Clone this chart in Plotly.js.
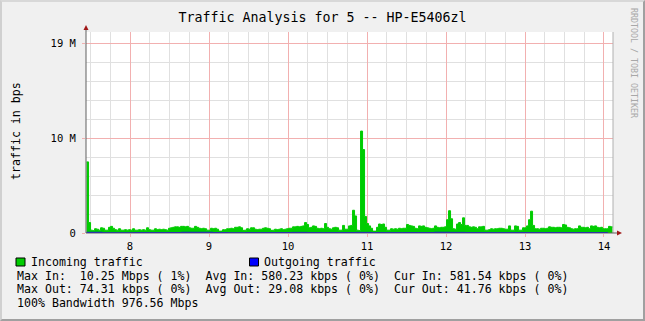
<!DOCTYPE html>
<html>
<head>
<meta charset="utf-8">
<script src="https://cdn.plot.ly/plotly-3.0.1.min.js"></script>
<style>
html,body{margin:0;padding:0;background:#f0f0f0;}
#wrap{position:relative;width:645px;height:321px;}
#chart{width:645px;height:321px;}
#frame{position:absolute;left:0;top:0;width:645px;height:321px;box-sizing:border-box;
 border-top:2px solid #d8d8d8;border-left:2px solid #d0d0d0;border-right:2px solid #a0a0a0;border-bottom:2px solid #a0a0a0;pointer-events:none;}
</style>
</head>
<body>
<div id="wrap"><div id="chart"></div><div id="frame"></div></div>
<script>
// ---- data (values in M bits/s) ----
var timeStart = 7.45;          // first sample (hour)
var timeStep = 2 / 79;         // sample spacing (hour)
var inSeg1 = [7.5,1.1,0.3,0.25,0.45,0.4,0.3,0.55,0.5,0.3,0.3,0.6,0.7,0.5,0.35,0.3,0.45,0.3,0.3,0.35,0.3,0.35,
  0.3,0.45,0.3,0.3,0.35,0.3,0.35,0.3,0.55,0.35,0.3,0.3,0.45,0.35,0.4,0.35,0.4,0.35,0.3,0.5,0.55,0.6,0.65,0.65,
  0.6,0.7,0.7,0.65,0.7,0.55,0.5,0.5,0.7,0.6,0.5,0.45,0.5,0.45,0.3,0.3,0.5,0.45,0.5,0.4];
var inSeg2 = [0.2,0.2,0.35,0.35,0.45,0.45,0.5,0.45,0.6,0.6,0.65,0.55,0.28,0.3,0.45,0.4,0.55,0.55,0.4,0.35,0.4,0.4,
  0.5,0.55,0.5,0.45,0.28,0.3,0.4,0.35,0.4,0.45,0.35,0.4,0.45,0.5,0.5,0.65,0.65,0.7,0.65,0.7,0.75,1.1,0.9,0.55,
  0.6,0.75,0.7,0.5,0.45,0.5,0.45,1.0,0.6,0.45,0.4,0.55,0.6,0.55,0.3,0.3,0.8,0.4,0.4,0.75];
var inSeg3 = [0.8,2.4,1.8,0.3,0.25,10.75,8.8,1.75,1.0,0.75,0.5,0.2,0.2,0.6,0.95,0.9,0.95,0.6,0.3,0.3,0.45,0.4,
  0.45,0.4,0.5,0.45,0.5,0.5,0.9,0.8,0.75,0.7,0.5,0.45,0.75,0.7,0.75,0.6,0.55,0.5,0.45,0.5,0.75,0.6,0.55,0.6,
  0.6,0.65,1.4,2.35,1.5,0.45,0.4,0.95,1.1,0.9,1.6,0.8,0.8,0.65,0.6,0.65,0.6,0.45,0.65,0.65];
var inSeg4 = [0.7,0.3,0.3,0.35,0.45,0.4,0.45,0.45,0.5,0.5,0.45,0.4,0.4,0.75,0.3,0.3,0.75,0.7,0.3,0.3,0.55,0.55,
  0.75,1.4,2.3,0.8,0.45,0.45,0.4,0.5,0.5,0.45,0.5,0.65,0.6,0.6,0.55,0.6,0.6,0.55,0.9,0.85,0.6,0.55,0.45,0.4,
  0.45,0.45,0.75,0.6,0.6,0.55,0.6,0.45,0.75,0.7,0.75,0.6,0.55,0.6,0.45,0.45,0.45,0.7,0.65,0.6];
var outStart = 7.45, outStep = 0.2;
var outValues = [0.07,0.03,0.03,0.04,0.04,0.05,0.07,0.07,0.05,0.03,0.04,0.04,0.05,0.06,0.04,0.04,0.05,
  0.06,0.04,0.04,0.05,0.05,0.07,0.06,0.05,0.04,0.04,0.05,0.04,0.05,0.04,0.05,0.04,0.04];
var xTickVals = [8,9,10,11,12,13,14];
var xTickText = ['8','9','10','11','12','13','14'];
var yTickVals = [0,10,20];
var yTickText = ['0','10 M','19 M'];
var chartTitle = 'Traffic Analysis for 5 -- HP-E5406zl';
var yTitle = 'traffic in bps';
var legendIn = 'Incoming traffic';
var legendOut = 'Outgoing traffic';
var statRows = [
  'Max In:  10.25 Mbps ( 1%)  Avg In: 580.23 kbps ( 0%)  Cur In: 581.54 kbps ( 0%)',
  'Max Out: 74.31 kbps ( 0%)  Avg Out: 29.08 kbps ( 0%)  Cur Out: 41.76 kbps ( 0%)',
  '100% Bandwidth 976.56 Mbps'
];
var credit = 'RRDTOOL / TOBI OETIKER';

// ---- build ----
var inValues = inSeg1.concat(inSeg2, inSeg3, inSeg4);
var inX = inValues.map(function(v,i){return timeStart + i*timeStep;});
var outX = outValues.map(function(v,i){return outStart + i*outStep;});

var W=645,H=321,L=86,R=613,T=32,B=233;
function px(x){return (x-L)/(R-L);}
function py(y){return (B-y)/(B-T);}
function nb(s){return s.replace(/ /g,'\u00a0');}
var mono = 'DejaVu Sans Mono, monospace';

var traces = [
  {x:inX, y:inValues, type:'scatter', mode:'lines', line:{shape:'hv', color:'#00cc00', width:1},
   fill:'tozeroy', fillcolor:'#00cc00', hoverinfo:'skip'},
  {x:outX, y:outValues, type:'scatter', mode:'lines', line:{shape:'hv', color:'#0000ff', width:1},
   fill:'tozeroy', fillcolor:'#0000ff', hoverinfo:'skip'}
];

var shapes = [
  {type:'line', xref:'paper', yref:'paper', x0:1, x1:1, y0:0, y1:1, line:{color:'#b0b0b0', width:1}},
  {type:'line', xref:'paper', yref:'paper', x0:0, x1:0, y0:0, y1:py(29), line:{color:'#606060', width:1}},
  {type:'line', xref:'paper', yref:'paper', x0:0, x1:px(618), y0:0, y1:0, line:{color:'#606060', width:1}},
  {type:'path', xref:'paper', yref:'paper', line:{width:0}, fillcolor:'#a01818',
   path:'M '+px(86)+' '+py(25)+' L '+px(83.5)+' '+py(30)+' L '+px(88.5)+' '+py(30)+' Z'},
  {type:'path', xref:'paper', yref:'paper', line:{width:0}, fillcolor:'#a01818',
   path:'M '+px(622)+' '+py(233)+' L '+px(617)+' '+py(230.5)+' L '+px(617)+' '+py(235.5)+' Z'},
  {type:'rect', xref:'paper', yref:'paper', x0:px(16), x1:px(25), y0:py(258), y1:py(266),
   line:{color:'#000', width:1}, fillcolor:'#00cc00'},
  {type:'rect', xref:'paper', yref:'paper', x0:px(249.5), x1:px(258.5), y0:py(258), y1:py(266),
   line:{color:'#000', width:1}, fillcolor:'#0000ff'}
];

var f = {family:mono, size:11.6, color:'#000'};
var annotations = [
  {text:yTitle, xref:'paper', yref:'paper', x:px(16), y:py(131), showarrow:false, textangle:-90,
   xanchor:'center', yanchor:'middle', font:f},
  {text:nb(legendIn), xref:'paper', yref:'paper', x:px(29), y:py(261.7), showarrow:false, xanchor:'left', yanchor:'middle', font:f},
  {text:nb(legendOut), xref:'paper', yref:'paper', x:px(262), y:py(261.7), showarrow:false, xanchor:'left', yanchor:'middle', font:f},
  {text:credit, xref:'paper', yref:'paper', x:px(634), y:py(63), showarrow:false, textangle:90,
   xanchor:'center', yanchor:'middle', font:{family:mono, size:8.3, color:'#a8a8a8'}}
];
var rowY = [275.5, 289.3, 303];
statRows.forEach(function(s,i){
  annotations.push({text:nb(s), xref:'paper', yref:'paper', x:px(15), y:py(rowY[i]), showarrow:false,
    xanchor:'left', yanchor:'middle', font:f});
});

var layout = {
  width:W, height:H, margin:{l:L, r:W-R, t:T, b:H-B, pad:0},
  paper_bgcolor:'#f0f0f0', plot_bgcolor:'#ffffff', showlegend:false,
  title:{text:chartTitle, x:0.5, xref:'container', y:1-17/H, yref:'container', xanchor:'center', yanchor:'middle',
    font:{family:mono, size:13.3, color:'#000'}},
  xaxis:{range:[7.443, 14.114], tickvals:xTickVals, ticktext:xTickText, showgrid:true, gridcolor:'#f2b0b0', gridwidth:1,
    ticks:'outside', ticklen:3, tickcolor:'#f2b0b0', zeroline:false, showline:false,
    tickfont:{family:mono, size:10.5, color:'#000'},
    minor:{dtick:0.25, tick0:0, showgrid:true, gridcolor:'#e0e0e0', gridwidth:1, ticks:''}},
  yaxis:{range:[0, 21.2], tickvals:yTickVals, ticktext:yTickText, showgrid:true, gridcolor:'#f2b0b0', gridwidth:1,
    ticks:'outside', ticklen:3, tickcolor:'#f2b0b0', zeroline:false, showline:false,
    tickfont:{family:mono, size:10.5, color:'#000'}, ticklabelstandoff:4,
    minor:{dtick:2, tick0:0, showgrid:true, gridcolor:'#e0e0e0', gridwidth:1, ticks:''}},
  shapes:shapes, annotations:annotations
};
Plotly.newPlot('chart', traces, layout, {staticPlot:true, displayModeBar:false});
</script>
</body>
</html>
